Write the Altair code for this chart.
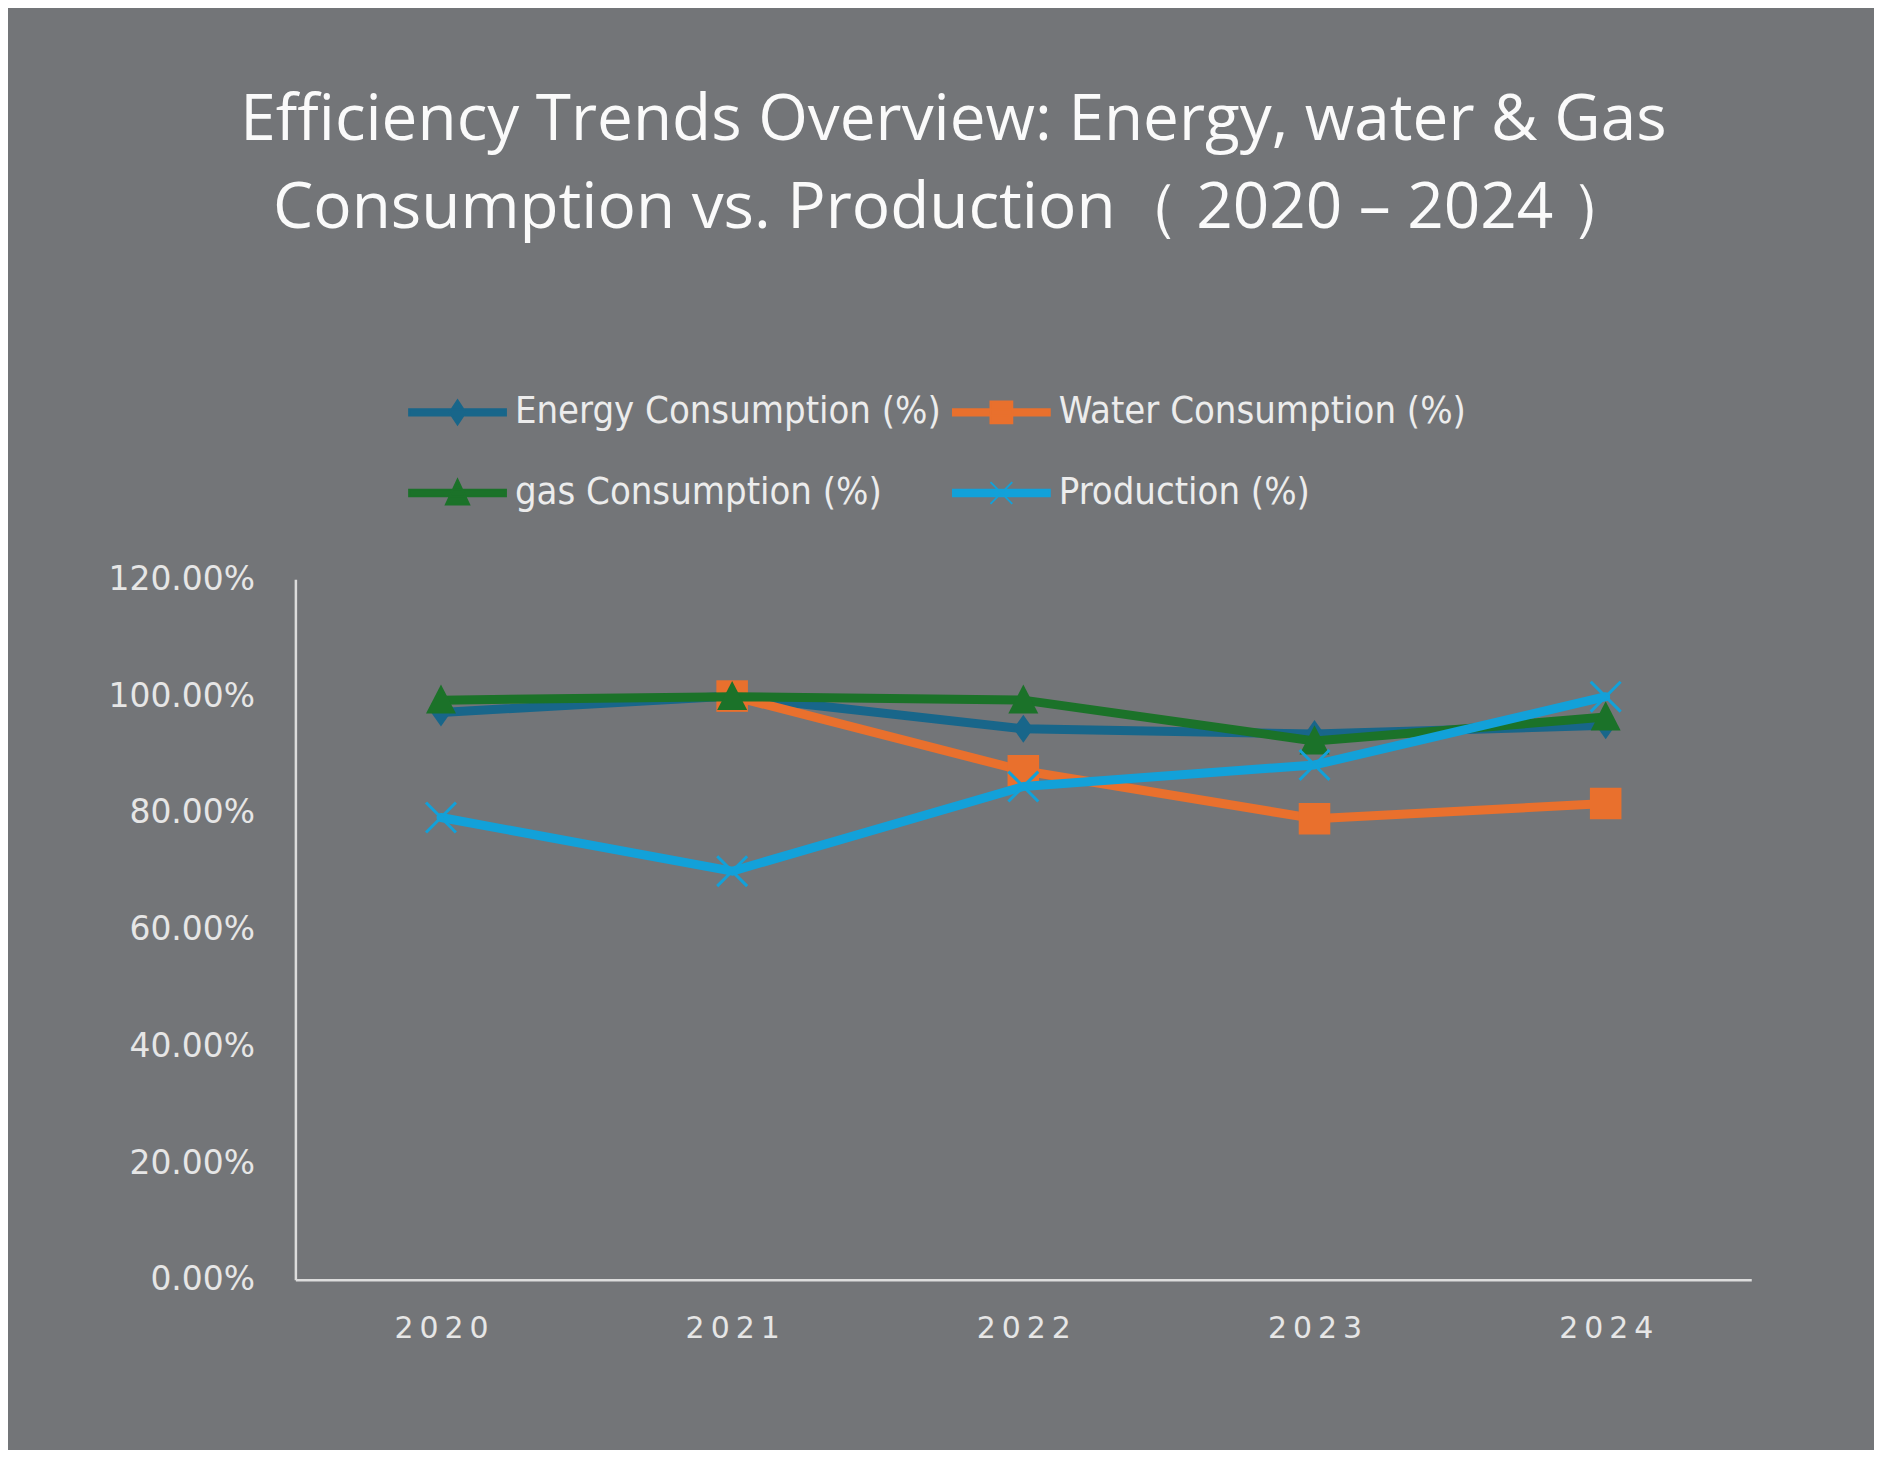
import altair as alt
import pandas as pd

years = ["2020", "2021", "2022", "2023", "2024"]
series_names = ["Energy Consumption (%)", "Water Consumption (%)", "gas Consumption (%)", "Production (%)"]
energy = [0.972, 1.000, 0.944, 0.935, 0.950]
water = [None, 1.000, 0.872, 0.790, 0.816]
gas = [0.993, 0.999, 0.993, 0.923, 0.964]
production = [0.792, 0.700, 0.845, 0.882, 0.999]
colors = ["#18668a", "#e9702d", "#1b7229", "#12a1d9"]

values = [energy, water, gas, production]
rows = []
for name, vals in zip(series_names, values):
    for y, v in zip(years, vals):
        if v is not None:
            rows.append({"year": y, "series": name, "value": v})
df = pd.DataFrame(rows)

marker_paths = [
    "M0,-1 L0.7,0 L0,1 L-0.7,0 Z",
    "square",
    "M0,-1 L0.95,0.85 L-0.95,0.85 Z",
    "M-1,-1 L1,1 M1,-1 L-1,1",
]
marker_sizes = [800, 1000, 1000, 900]

bar = "M-2,-0.13 L2,-0.13 L2,0.13 L-2,0.13 Z "
legend_paths = [
    bar + "M0,-0.5 L0.33,0 L0,0.5 L-0.33,0 Z",
    bar + "M-0.45,-0.45 L0.45,-0.45 L0.45,0.45 L-0.45,0.45 Z",
    bar + "M0,-0.55 L0.48,0.48 L-0.48,0.48 Z",
    bar + "M-0.45,-0.45 L0.45,0.45 M0.45,-0.45 L-0.45,0.45",
]

LEG_SIZE = 2352
legend = alt.Legend(
    title=None,
    orient="none",
    legendX=137,
    legendY=-193,
    columns=2,
    direction="horizontal",
    columnPadding=8,
    rowPadding=36,
    labelOffset=32,
    symbolSize=LEG_SIZE,
    symbolStrokeWidth=2,
    symbolOpacity=1,
    labelFont="DejaVu Sans Condensed",
    labelFontSize=38,
    labelColor="#ececec",
    labelLimit=0,
)

color_enc = alt.Color(
    "series:N",
    scale=alt.Scale(domain=series_names, range=colors),
    legend=legend,
    sort=series_names,
)

x_enc = alt.X(
    "year:O",
    title=None,
    scale=alt.Scale(type="point", padding=0.5, domain=years),
    axis=alt.Axis(
        labelAngle=0,
        labelExpr="join(split(datum.label, ''), '\u2009')",
        labelFont="DejaVu Sans",
        labelFontSize=30,
        labelColor="#e6e6e6",
        labelPadding=34,
        ticks=False,
        grid=False,
        domainColor="#dcdcdc",
        domainWidth=2.5,
    ),
)
y_enc = alt.Y(
    "value:Q",
    title=None,
    scale=alt.Scale(domain=[0, 1.2], nice=False, zero=True),
    axis=alt.Axis(
        values=[0, 0.2, 0.4, 0.6, 0.8, 1.0, 1.2],
        format=".2%",
        labelFont="DejaVu Sans",
        labelFontSize=33,
        labelColor="#e6e6e6",
        labelPadding=41,
        ticks=False,
        grid=False,
        domainColor="#dcdcdc",
        domainWidth=2.5,
    ),
)

base = alt.Chart(df)
legend_layer = base.transform_filter("false").mark_point(filled=True, opacity=1).encode(
    x=x_enc,
    y=y_enc,
    color=color_enc,
    shape=alt.Shape(
        "series:N",
        scale=alt.Scale(domain=series_names, range=legend_paths),
        legend=legend,
        sort=series_names,
    ),
)
layers = [legend_layer]
for i, name in enumerate(series_names):
    sub = base.transform_filter(alt.datum.series == name)
    layers.append(
        sub.mark_line(strokeWidth=9, strokeJoin="round", strokeCap="round").encode(
            x=x_enc, y=y_enc, color=color_enc
        )
    )
    if i == 3:
        pt = sub.mark_point(
            shape=marker_paths[i], size=marker_sizes[i], filled=False, strokeWidth=3, opacity=1
        )
    else:
        pt = sub.mark_point(
            shape=marker_paths[i], size=marker_sizes[i], filled=True, opacity=1, strokeWidth=0
        )
    layers.append(pt.encode(x=x_enc, y=y_enc, color=color_enc))

chart = (
    alt.layer(*layers)
    .properties(
        width=1459,
        height=702,
        background="#737578",
        padding={"left": 100, "top": 80, "right": 123, "bottom": 105},
        title=alt.TitleParams(
            text=[
                "Efficiency Trends Overview: Energy, water & Gas",
                "Consumption vs. Production\uff08 2020 \u2013 2024 \uff09",
            ],
            font="Open Sans",
            fontSize=64,
            fontWeight="normal",
            color="#fafafa",
            lineHeight=88,
            anchor="middle",
            dx=-70,
            offset=146,
        ),
    )
    .configure_view(stroke=None)
)

chart.save("out.html", embed_options={"renderer": "svg", "actions": False})
